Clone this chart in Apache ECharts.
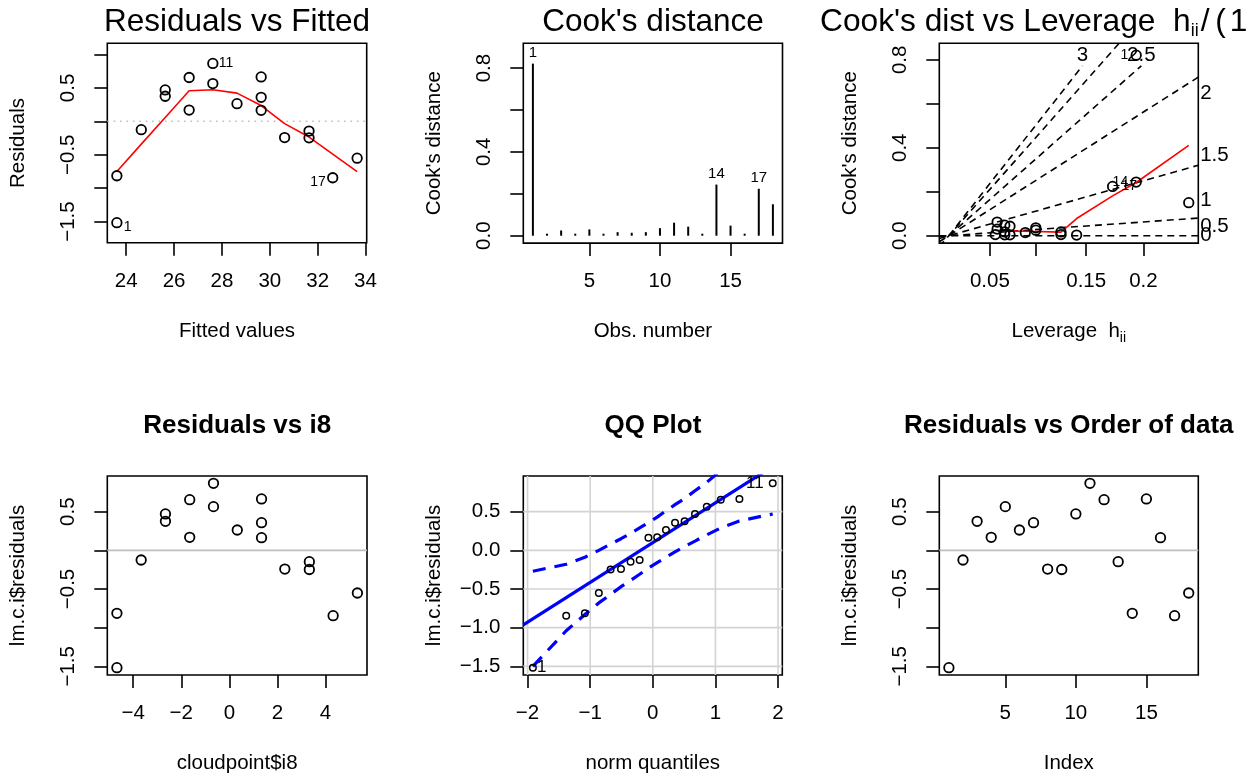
<!DOCTYPE html>
<html>
<head>
<meta charset="utf-8">
<script src="https://cdn.jsdelivr.net/npm/echarts@6/dist/echarts.min.js"></script>
<style>html,body{margin:0;padding:0;background:#fff}#c{width:1255px;height:778px}</style>
</head>
<body>
<div id="c"></div>
<script>
// ================= DATA =================
const obsNumber     = [1, 2, 3, 4, 5, 6, 7, 8, 9, 10, 11, 12, 13, 14, 15, 16, 17, 18];
const fittedValues  = [23.61, 24.63, 25.63, 26.63, 27.62, 28.63, 29.64, 30.62, 31.64, 25.63, 27.62, 26.63, 31.64, 23.61, 29.64, 29.64, 32.63, 33.65];
const residuals     = [-1.517, -0.125, 0.375, 0.168, 0.565, 0.263, 0.358, -0.243, -0.248, 0.470, 0.866, 0.655, -0.147, -0.815, 0.664, 0.164, -0.845, -0.552];
const i8Values      = [-4.68, -3.67, -2.66, -1.65, -0.66, 0.33, 1.34, 2.31, 3.33, -2.66, -0.66, -1.65, 3.33, -4.68, 1.34, 1.34, 4.32, 5.33];
const leverage      = [0.194, 0.141, 0.1005, 0.0728, 0.0584, 0.0563, 0.067, 0.0894, 0.1259, 0.1005, 0.0584, 0.0728, 0.1259, 0.194, 0.067, 0.067, 0.1738, 0.2356];
const cooksDistance = [0.821, 0.003, 0.025, 0.004, 0.030, 0.005, 0.017, 0.014, 0.017, 0.036, 0.062, 0.043, 0.005, 0.244, 0.048, 0.004, 0.224, 0.150];

// red smoother, Residuals vs Fitted
const smoothFittedX = [23.61, 24.63, 25.63, 26.63, 27.62, 28.63, 29.64, 30.62, 31.64, 32.63, 33.65];
const smoothFittedY = [-0.75, -0.342, 0.057, 0.457, 0.472, 0.422, 0.236, -0.035, -0.236, -0.49, -0.754];
// red smoother, Cook's dist vs Leverage (x in leverage h)
const smoothLevX    = [0.0563, 0.0584, 0.067, 0.0728, 0.0894, 0.1005, 0.1259, 0.141, 0.1738, 0.194, 0.2356];
const smoothLevY    = [0.024, 0.0235, 0.023, 0.022, 0.020, 0.019, 0.016, 0.078, 0.181, 0.242, 0.411];

// QQ plot
const normQuantiles   = [-1.915, -1.383, -1.085, -0.862, -0.674, -0.508, -0.355, -0.210, -0.070, 0.070, 0.210, 0.355, 0.508, 0.674, 0.862, 1.085, 1.383, 1.915];
const qqEnvelopeUpper = [-0.27, -0.18, -0.09, 0.00, 0.08, 0.15, 0.22, 0.29, 0.36, 0.43, 0.51, 0.59, 0.67, 0.77, 0.88, 1.03, 1.24, 1.70];
const qqEnvelopeLower = [-1.50, -1.04, -0.83, -0.68, -0.57, -0.47, -0.39, -0.31, -0.23, -0.16, -0.09, -0.02, 0.05, 0.12, 0.20, 0.29, 0.38, 0.47];
const qqLineIntercept = 0.10;
const qqLineSlope     = 0.514;

// Cook's distance contour levels (std. residual), number of parameters
const contourLevels = [0, 0.5, 1, 1.5, 2, 2.5, 3];
const nParams = 2;

// labelled observations
const fittedLabelled = [1, 11, 17];
const cookLabelled   = [1, 14, 17];
const qqLabelled     = [1, 11];

// ticks / tick labels
const fittedTicks   = [24, 26, 28, 30, 32, 34];
const resTicksTop   = [-1.5, -1, -0.5, 0, 0.5, 1];
const resTicks      = [-1.5, -1, -0.5, 0, 0.5];
const resLabelVals  = [-1.5, -0.5, 0.5];
const obsTicks      = [5, 10, 15];
const cookTicks     = [0, 0.2, 0.4, 0.6, 0.8];
const cookLabelVals = [0, 0.4, 0.8];
const levTicks      = [0.05, 0.1, 0.15, 0.2];
const levLabelVals  = [0.05, 0.15, 0.2];
const i8Ticks       = [-4, -2, 0, 2, 4];
const qqXTicks      = [-2, -1, 0, 1, 2];
const qqYTicks      = [-1.5, -1, -0.5, 0, 0.5];

// ================= STYLE / LAYOUT =================
const FONT = 'Liberation Sans';
const FS = 20.5, LW = 1.6;
const MINUS = '\u2212';
const fmt = (v, d) => { const s = Math.abs(v).toFixed(d); return (v < -1e-9 ? MINUS : '') + s; };
const g = h => h / (1 - h);           // leverage axis scale h/(1-h)
const ginv = v => v / (1 + v);

const ext = [
  {x: [23.21, 34.05], y: [-1.818, 1.167]},
  {x: [0.32, 18.68],  y: [-0.0353, 0.918]},
  {x: [-0.0123, 0.3205], y: [-0.0337, 0.8752]},
  {x: [-5.08, 5.73],  y: [-1.612, 0.961]},
  {x: [-2.068, 2.068], y: [-1.612, 0.961]},
  {x: [0.32, 18.68],  y: [-1.612, 0.961]}
];

const gridBoxes = [
  {left: 107.3, top: 43.3, width: 259.4, height: 199.5},
  {left: 523.3, top: 43.3, width: 259.2, height: 199.8},
  {left: 939.3, top: 43.3, width: 259.0, height: 199.8},
  {left: 107.3, top: 476,  width: 259.7, height: 199},
  {left: 523.3, top: 476,  width: 259.0, height: 199},
  {left: 939.3, top: 476,  width: 259.0, height: 199}
];
const grid = gridBoxes.map(b => Object.assign({show: true, borderColor: '#000', borderWidth: LW, backgroundColor: 'transparent'}, b));

function axis(kind, gi, ticks, labels, labelFmt, name, o) {
  o = o || {};
  const isY = kind === 'y';
  const e = ext[gi][isY ? 'y' : 'x'];
  return {
    type: 'value', gridIndex: gi, min: e[0], max: e[1],
    position: isY ? 'left' : 'bottom',
    axisLine: {show: false, onZero: false},
    splitLine: {show: false},
    axisTick: {show: true, inside: false, length: 13, customValues: ticks, lineStyle: {color: '#000', width: LW}},
    axisLabel: {
      show: true, customValues: labels, margin: o.margin != null ? o.margin : 28,
      rotate: isY && !o.horizontal ? 90 : 0,
      color: '#000', fontFamily: FONT, fontSize: FS, formatter: labelFmt
    },
    name: name, nameLocation: 'middle', nameGap: o.nameGap != null ? o.nameGap : 78,
    nameTextStyle: Object.assign({color: '#000', fontFamily: FONT, fontSize: FS}, o.nameStyle || {})
  };
}

const xAxis = [
  axis('x', 0, fittedTicks, fittedTicks, v => fmt(v, 0), 'Fitted values'),
  axis('x', 1, obsTicks, obsTicks, v => fmt(v, 0), 'Obs. number'),
  axis('x', 2, levTicks.map(g), levLabelVals.map(g), v => String(+ginv(v).toFixed(2)), 'Leverage  h{s|ii}',
       {nameGap: 74, nameStyle: {rich: {s: {fontSize: 14, fontFamily: FONT, color: '#000', padding: [14, 0, 0, 0]}}}}),
  axis('x', 3, i8Ticks, i8Ticks, v => fmt(v, 0), 'cloudpoint$i8'),
  axis('x', 4, qqXTicks, qqXTicks, v => fmt(v, 0), 'norm quantiles'),
  axis('x', 5, obsTicks, obsTicks, v => fmt(v, 0), 'Index')
];
const yAxis = [
  axis('y', 0, resTicksTop, resLabelVals, v => fmt(v, 1), 'Residuals'),
  axis('y', 1, cookTicks, cookLabelVals, v => fmt(v, 1), "Cook's distance"),
  axis('y', 2, cookTicks, cookLabelVals, v => fmt(v, 1), "Cook's distance"),
  axis('y', 3, resTicks, resLabelVals, v => fmt(v, 1), 'lm.c.i$residuals'),
  axis('y', 4, qqYTicks, qqYTicks, v => fmt(v, 1), 'lm.c.i$residuals', {horizontal: true, margin: 23}),
  axis('y', 5, resTicks, resLabelVals, v => fmt(v, 1), 'lm.c.i$residuals')
];

// ---------- helpers ----------
function points(gi, xs, ys, size, bw) {
  return {type: 'scatter', xAxisIndex: gi, yAxisIndex: gi, silent: true, z: 4,
    symbol: 'circle', symbolSize: size || 9.5,
    itemStyle: {color: 'rgba(255,255,255,0)', borderColor: '#000', borderWidth: bw || 1.8, opacity: 1},
    data: xs.map((x, i) => [x, ys[i]])};
}
function polyline(gi, pts, color, width, type, z) {
  return {type: 'line', xAxisIndex: gi, yAxisIndex: gi, silent: true, symbol: 'none', z: z || 3,
    clip: true, animation: false,
    lineStyle: {color: color, width: width, type: type || 'solid', cap: 'butt'}, data: pts};
}
function texts(gi, items) {
  return {type: 'scatter', xAxisIndex: gi, yAxisIndex: gi, silent: true, clip: false, z: 6,
    symbol: 'circle', symbolSize: 1, itemStyle: {color: 'rgba(255,255,255,0)', opacity: 1},
    data: items.map(it => ({value: [it.x, it.y], label: {
      show: true, position: [0.5, 0.5], formatter: String(it.text),
      align: it.align || 'center', verticalAlign: 'middle',
      offset: [it.dx || 0, it.dy || 0], textBorderWidth: 0, opacity: 1,
      fontSize: it.size || FS, fontFamily: FONT, color: '#000'}}))};
}
const idx = n => obsNumber.indexOf(n);

const series = [];

// ---------- Panel 1 : Residuals vs Fitted ----------
series.push(polyline(0, [[ext[0].x[0], 0], [ext[0].x[1], 0]], '#bebebe', LW, [1.6, 4.8], 2));
series.push(points(0, fittedValues, residuals));
series.push(polyline(0, smoothFittedX.map((x, i) => [x, smoothFittedY[i]]), '#ff0000', LW));
series.push(texts(0, [
  {x: fittedValues[idx(1)],  y: residuals[idx(1)],  text: fittedLabelled[0], align: 'left',  dx: 7,  dy: 4, size: 14},
  {x: fittedValues[idx(11)], y: residuals[idx(11)], text: fittedLabelled[1], align: 'left',  dx: 6,  dy: 0, size: 14},
  {x: fittedValues[idx(17)], y: residuals[idx(17)], text: fittedLabelled[2], align: 'right', dx: -7, dy: 4, size: 14}
]));

// ---------- Panel 2 : Cook's distance ----------
series.push({type: 'bar', xAxisIndex: 1, yAxisIndex: 1, silent: true, barWidth: 2, barMinHeight: 2,
  itemStyle: {color: '#000'},
  label: {show: true, position: 'top', distance: 3, fontFamily: FONT, fontSize: 15, color: '#000',
    formatter: p => cookLabelled.indexOf(p.value[0]) >= 0 ? String(p.value[0]) : ''},
  data: obsNumber.map((n, i) => [n, cooksDistance[i]])});

// ---------- Panel 3 : Cook's dist vs Leverage ----------
(function () {
  const gi = 2;
  const xmin = ext[gi].x[0], xmax = ext[gi].x[1], ymax = ext[gi].y[1];
  const pxPerX = gridBoxes[gi].width / (xmax - xmin);
  const pxPerY = gridBoxes[gi].height / (ymax - ext[gi].y[0]);
  const strW = (0.278 * FS) / pxPerX;   // width of " "
  const strH = 15 / pxPerY;             // height of " "
  const labs = [];
  contourLevels.forEach(b => {
    const bi2 = b * b;
    if (nParams * ymax > bi2 * xmax) {
      series.push(polyline(gi, [[xmin, bi2 * xmin], [xmax, bi2 * xmax]], '#000', LW, [7, 5], 2));
      const xi = xmax + strW / 3;
      labs.push({x: xi, y: bi2 * xi / nParams, text: String(b), align: 'left'});
    } else {
      const yi = ymax - 1.5 * strH;
      const xi = nParams * yi / bi2;
      series.push(polyline(gi, [[0, 0], [xi, yi]], '#000', LW, [7, 5], 2));
      labs.push({x: xi, y: ymax - 0.8 * strH, text: String(b), align: 'center'});
    }
  });
  series.push(points(gi, leverage.map(g), cooksDistance));
  series.push(polyline(gi, smoothLevX.map((x, i) => [g(x), smoothLevY[i]]), '#ff0000', LW));
  labs.push({x: g(leverage[idx(1)]),  y: cooksDistance[idx(1)],  text: cookLabelled[0], align: 'right', dx: -8, size: 14});
  labs.push({x: g(leverage[idx(14)]), y: cooksDistance[idx(14)], text: cookLabelled[1], align: 'right', dx: -8, size: 14});
  labs.push({x: g(leverage[idx(17)]), y: cooksDistance[idx(17)], text: cookLabelled[2], align: 'left',  dx: 9,  size: 14});
  series.push(texts(gi, labs));
})();

// ---------- Panel 4 : Residuals vs i8 ----------
series.push(polyline(3, [[ext[3].x[0], 0], [ext[3].x[1], 0]], '#bebebe', LW, 'solid', 2));
series.push(points(3, i8Values, residuals));

// ---------- Panel 5 : QQ plot ----------
(function () {
  const gi = 4;
  qqXTicks.forEach(t => series.push(polyline(gi, [[t, ext[gi].y[0]], [t, ext[gi].y[1]]], '#d3d3d3', LW, 'solid', 1)));
  qqYTicks.forEach(t => series.push(polyline(gi, [[ext[gi].x[0], t], [ext[gi].x[1], t]], '#d3d3d3', LW, 'solid', 1)));
  const sorted = residuals.slice().sort((a, b) => a - b);
  series.push(polyline(gi, ext[gi].x.map(x => [x, qqLineIntercept + qqLineSlope * x]), '#0000ff', 3.2, 'solid', 3));
  series.push(polyline(gi, normQuantiles.map((z, i) => [z, qqEnvelopeUpper[i]]), '#0000ff', 3.2, [13, 9], 3));
  series.push(polyline(gi, normQuantiles.map((z, i) => [z, qqEnvelopeLower[i]]), '#0000ff', 3.2, [13, 9], 3));
  series.push(points(gi, normQuantiles, sorted, 6.5, 1.5));
  series.push(texts(gi, [
    {x: normQuantiles[0], y: sorted[0], text: qqLabelled[0], align: 'left', dx: 4, size: 17},
    {x: normQuantiles[17], y: sorted[17], text: qqLabelled[1], align: 'right', dx: -9, size: 17}
  ]));
})();

// ---------- Panel 6 : Residuals vs Order ----------
series.push(polyline(5, [[ext[5].x[0], 0], [ext[5].x[1], 0]], '#bebebe', LW, 'solid', 2));
series.push(points(5, obsNumber, residuals));

// ---------- titles ----------
function title(x, y, text, size, bold, align, rich) {
  return {type: 'text', x: x, y: y, silent: true,
    style: {text: text, fontSize: size, fontFamily: FONT, fontWeight: bold ? 'bold' : 'normal',
      fill: '#000', align: align || 'center', verticalAlign: 'middle', rich: rich}};
}
const graphic = [
  title(237, 22.5, 'Residuals vs Fitted', 31.5, false),
  title(653, 22.5, "Cook's distance", 31.5, false),
  title(820, 22.5, "Cook's dist vs Leverage  h{s|ii}{g| }/{w| }({v| }1 \u2212 h{s|ii})", 31.7, false, 'left',
        {s: {fontSize: 18, fontFamily: FONT, fill: '#000', padding: [18, 0, 0, 0]},
         g: {fontSize: 8, fontFamily: FONT, fill: '#000'},
         w: {fontSize: 20, fontFamily: FONT, fill: '#000'},
         v: {fontSize: 14, fontFamily: FONT, fill: '#000'}}),
  title(237.2, 425.5, 'Residuals vs i8', 26, true),
  title(653, 425.5, 'QQ Plot', 26, true),
  title(1068.8, 425.5, 'Residuals vs Order of data', 26, true)
];

const chart = echarts.init(document.getElementById('c'), null, {renderer: 'canvas'});
chart.setOption({
  animation: false,
  backgroundColor: '#fff',
  textStyle: {fontFamily: FONT},
  grid: grid, xAxis: xAxis, yAxis: yAxis, series: series, graphic: graphic
});
</script>
</body>
</html>
